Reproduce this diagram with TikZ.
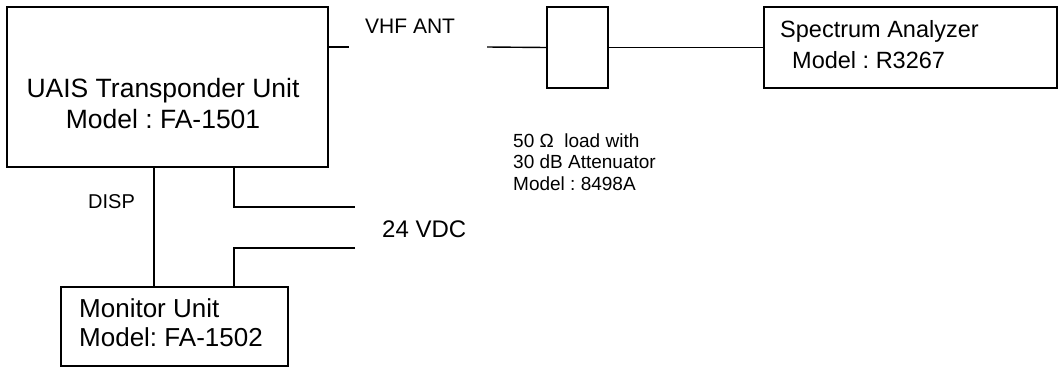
\documentclass[tikz,border=0pt]{standalone}
\usepackage{fontspec}
\setmainfont{Liberation Sans}
\frenchspacing
\begin{document}
\begin{tikzpicture}[x=1pt,y=-1pt,
  box/.style={draw,line width=1.4pt,inner sep=0pt},
  wire/.style={line width=1.4pt},
  lbl/.style={inner sep=0pt,align=left}]
\useasboundingbox (0,0) rectangle (1059,367);
% boxes
\node[box,minimum width=321pt,minimum height=160pt] (tu) at (167.5,87) {};
\node[box,minimum width=61pt,minimum height=81pt] (att) at (577.5,47.5) {};
\node[box,minimum width=293pt,minimum height=81pt] (sa) at (910.5,47.5) {};
\node[box,minimum width=227pt,minimum height=79pt] (mu) at (174.5,326.5) {};
% texts
\node[lbl,align=center,font=\fontsize{26.5}{31}\selectfont] (tutxt) at (163,104) {UAIS Transponder Unit\\Model : FA-1501};
\node[lbl,anchor=west,font=\fontsize{23.5}{31}\selectfont] (satxt) at (780,45) {Spectrum Analyzer\\\hspace{12pt}Model : R3267};
\node[lbl,anchor=west,font=\fontsize{26}{29}\selectfont] (mutxt) at (79,323) {Monitor Unit\\Model: FA-1502};
\node[lbl,anchor=west,font=\fontsize{21}{25}\selectfont] (vhf) at (365,26) {VHF ANT};
\node[lbl,anchor=west,font=\fontsize{20}{24}\selectfont] (disp) at (88,202) {DISP};
\node[lbl,anchor=west,font=\fontsize{24}{28}\selectfont] (vdc) at (382,229) {24 VDC};
\node[lbl,anchor=west,font=\fontsize{19}{21.7}\selectfont] (attxt) at (513,162) {50 Ω\ \ load with\\30 dB Attenuator\\Model : 8498A};
% coordinates
\coordinate (vhfend) at (349,47);
\coordinate (attin) at (487,47);
\coordinate (pwA) at (355,207);
\coordinate (pwB) at (355,248);
% connectors
\draw[wire] (tu.east |- vhfend) -- (vhfend);
\draw[wire] (attin) -- (att.west);
\draw[wire] (att.east) -- (sa.west);
\draw[wire] (tu.south -| 154,0) -- (mu.north -| 154,0);
\draw[wire] (tu.south -| 234,0) |- (pwA);
\draw[wire] (pwB) -| (mu.north -| 234,0);
\end{tikzpicture}
\end{document}
